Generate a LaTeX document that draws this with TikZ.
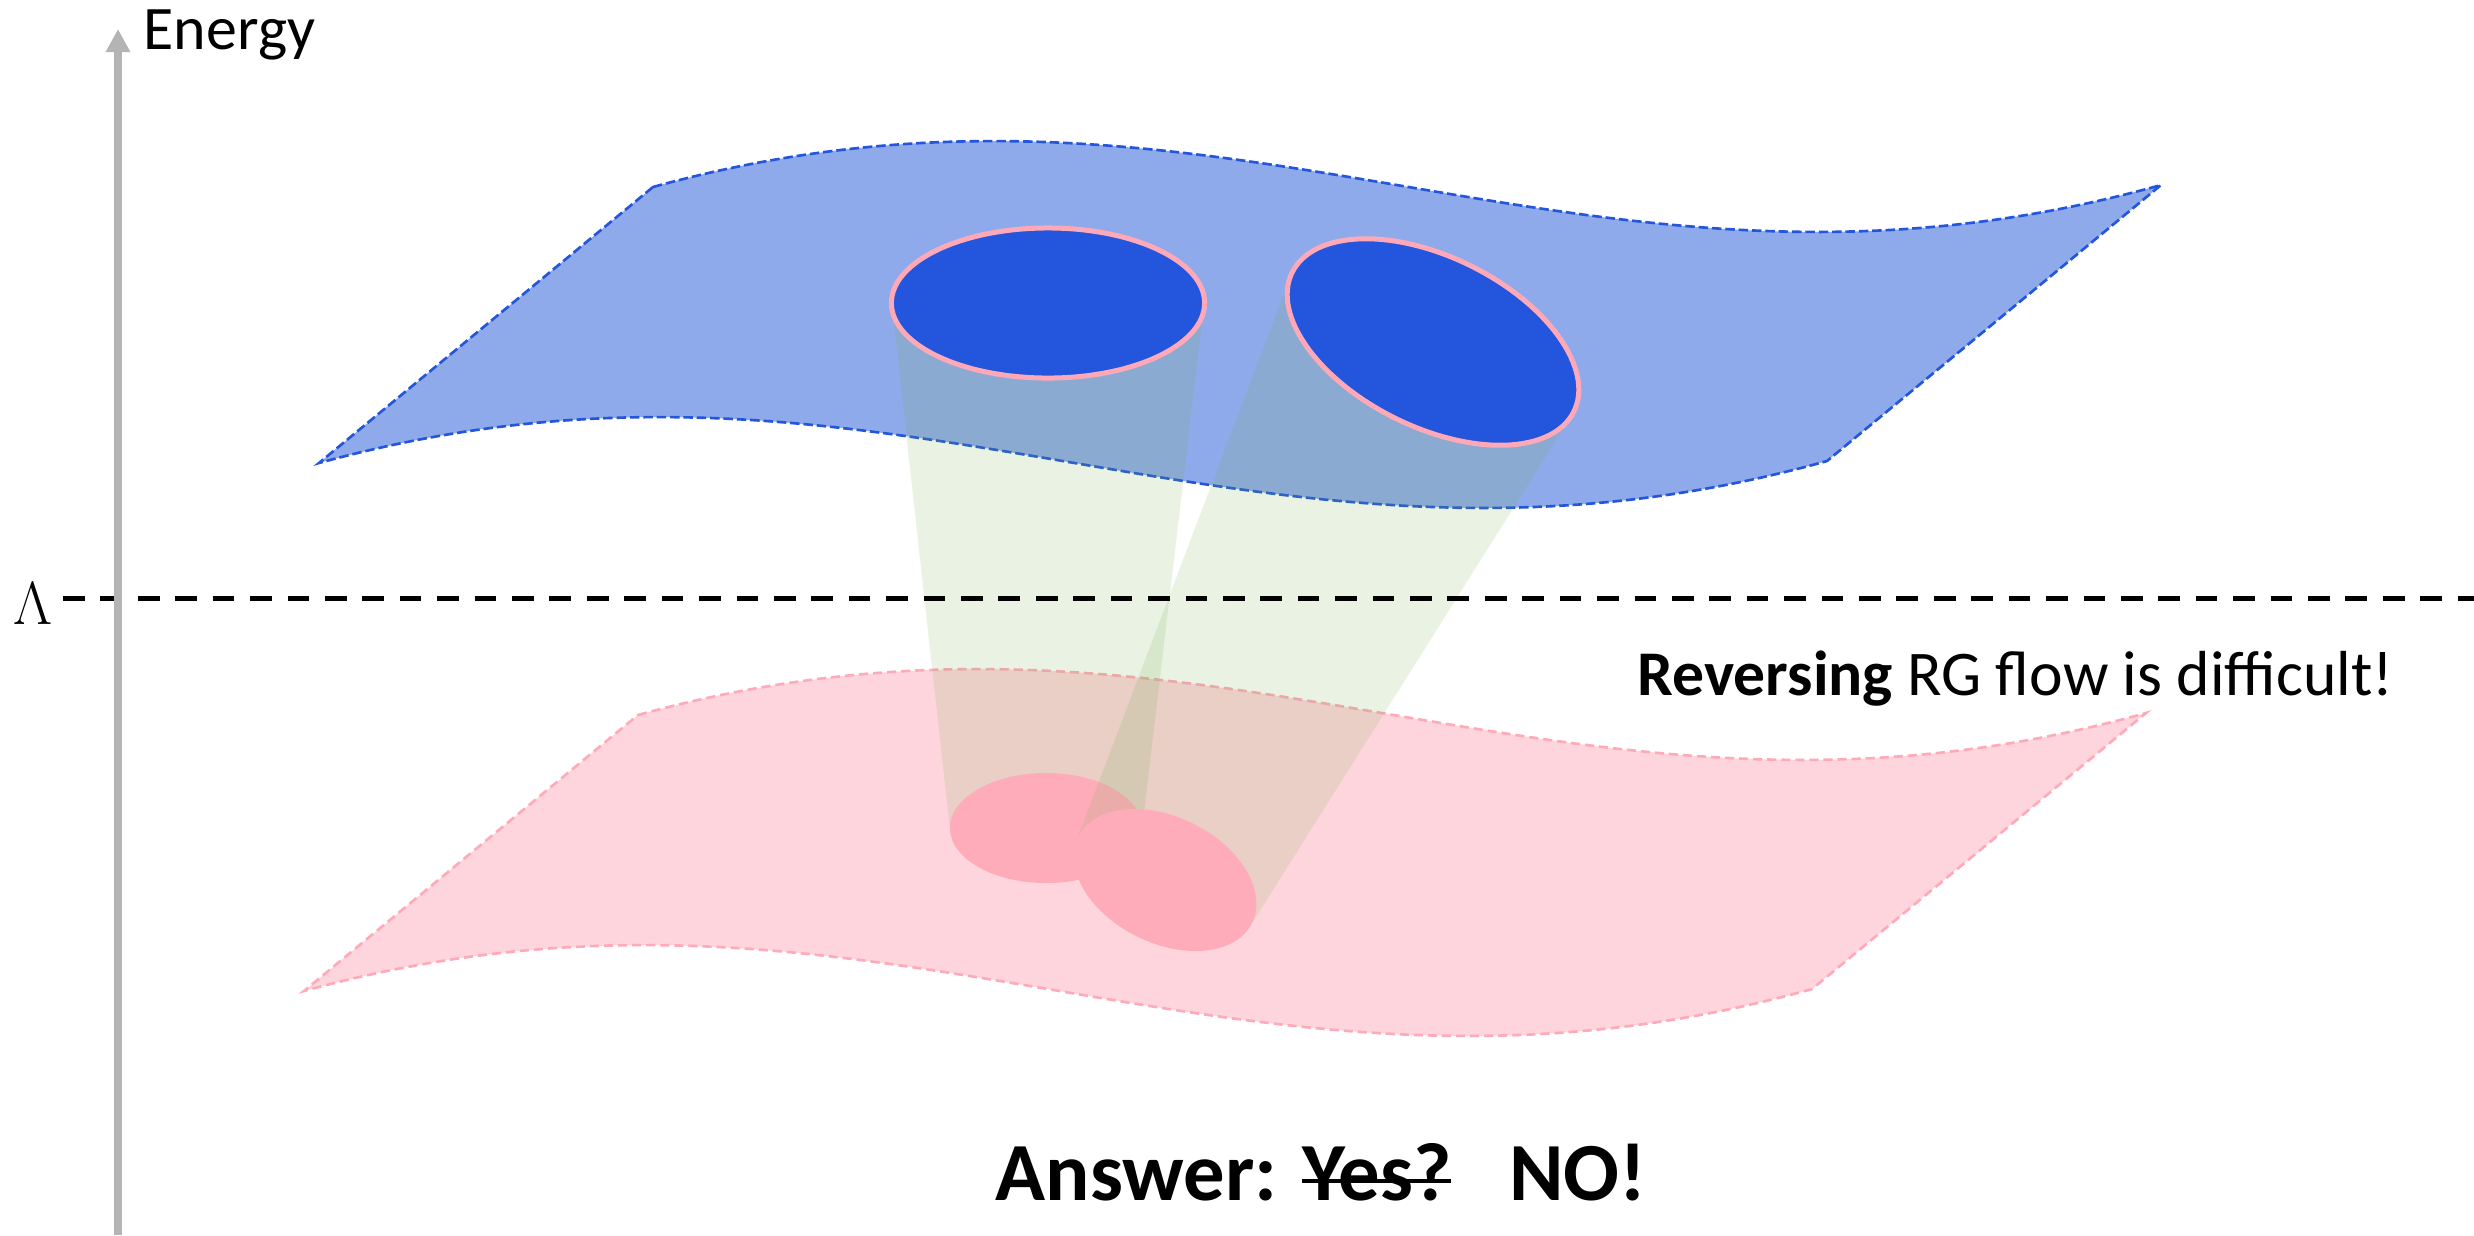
\documentclass[tikz,border=0pt]{standalone}
\usepackage[no-math]{fontspec}
\setmainfont{Carlito}
\usetikzlibrary{arrows.meta}
\definecolor{ellblue}{HTML}{2356DC}
\definecolor{sheetblue}{HTML}{8FAAEB}
\definecolor{sheetpink}{HTML}{FFD5DD}
\definecolor{ellpink}{HTML}{FFACBA}
\definecolor{rimpink}{HTML}{FFA8B8}
\definecolor{edgepink}{HTML}{FFAAB8}
\definecolor{conegreen}{HTML}{70AD47}
\definecolor{axisgray}{HTML}{B4B4B4}
\newcommand{\strikeit}[1]{\setbox0=\hbox{#1}\rlap{\rule[0.205em]{\wd0}{0.05em}}\box0}
\tikzset{
  bluesheet/.style={fill=sheetblue, draw=ellblue, line width=0.75pt, dash pattern=on 2.7pt off 1.1pt},
  pinksheet/.style={fill=sheetpink, draw=edgepink, line width=0.75pt, dash pattern=on 2.6pt off 1.4pt},
  cone/.style={fill=conegreen, fill opacity=0.15},
  topdisk/.style={fill=ellblue, draw=rimpink, line width=1.42pt},
  shadowdisk/.style={fill=ellpink},
  cutline/.style={draw=black, line width=1.42pt, dash pattern=on 6.17pt off 4.47pt},
  axisline/.style={draw=axisgray, line width=2.08pt, -{Triangle[width=6.6pt,length=6.6pt]}},
  labeltext/.style={inner sep=0pt, font=\fontsize{17.6}{21}\selectfont},
  answertext/.style={inner sep=0pt, font=\fontsize{23.5}{28}\selectfont\bfseries},
}
\begin{document}
\begin{tikzpicture}[x=0.01cm, y=-0.01cm]
\useasboundingbox (0,0) rectangle (2474,1235);
\fill[white] (0,0) rectangle (2474,1235);
% sheets
\path[bluesheet] (653,187) .. controls (1230,28) and (1584,346) .. (2161,185) -- (1827,461) .. controls (1250,622) and (896,304) .. (319,463) -- cycle;
\path[pinksheet] (638,715) .. controls (1215,556) and (1569,874) .. (2146,713) -- (1812,989) .. controls (1235,1150) and (881,832) .. (304,991) -- cycle;
% cone 1 and its shadow
\path[cone] (892.2,307.1) -- (1203.8,307.3) -- (1141.8,831.7) -- (950.2,831.6) -- cycle;
\path[shadowdisk] (1046,828) ellipse [x radius=0.96cm, y radius=0.55cm];
% cone 2 and its shadow
\path[cone] (1290.5,276.5) -- (1571.4,415.7) -- (1249.9,926.7) -- (1076.5,840.6) -- cycle;
\path[shadowdisk, rotate around={-26.3:(1165,880)}] (1165,880) ellipse [x radius=0.97cm, y radius=0.63cm];
% top disks
\path[topdisk] (1048,303) ellipse [x radius=1.565cm, y radius=0.75cm];
\path[topdisk, rotate around={-26.3:(1433,342)}] (1433,342) ellipse [x radius=1.57cm, y radius=0.85cm];
% cutoff line
\coordinate (lamL) at (63,598);
\coordinate (lamR) at (2474,598);
\draw[cutline] (lamL) -- (lamR);
\node[inner sep=0pt, anchor=base, font=\fontsize{18.8}{22}\selectfont] (lambda) at (33,624) {$\Lambda$};
% energy axis
\coordinate (axisbot) at (118,1235);
\coordinate (axistop) at (118,29);
\draw[axisline] (axisbot) -- (axistop);
\node[labeltext, anchor=base west] (energy) at (143,49) {Energy};
% texts
\node[labeltext, anchor=base west, font=\fontsize{18.1}{21}\selectfont] (reverse) at (1637,695) {\textbf{Reversing} RG flow is difficult!};
\node[answertext, anchor=base west] (answer) at (995,1200) {Answer: \strikeit{Yes?}\hspace{0.7em}NO!};
\end{tikzpicture}
\end{document}
